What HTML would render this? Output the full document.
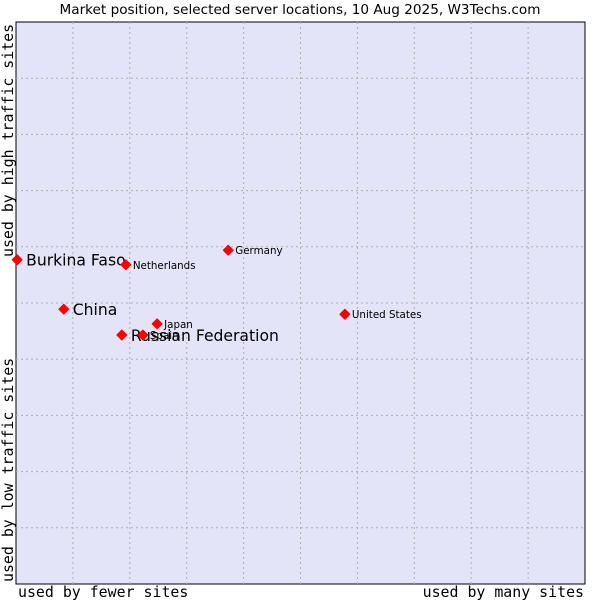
<!DOCTYPE html>
<html><head><meta charset="utf-8"><style>
body{margin:0;background:#fff;width:600px;height:600px;overflow:hidden}
svg{display:block}
</style></head><body>
<svg width="600" height="600">
<text x="300" y="14" text-anchor="middle" font-family="DejaVu Sans, sans-serif" font-size="13.6" fill="#000">Market position, selected server locations, 10 Aug 2025, W3Techs.com</text>
<rect x="16" y="22" width="569" height="562" fill="#e3e4f7" stroke="#000" stroke-width="1"/>
<g id="grid"></g>
<g id="marks"></g>
<text x="18" y="597" font-family="DejaVu Sans Mono, monospace" font-size="14.9">used by fewer sites</text>
<text x="584" y="597" text-anchor="end" font-family="DejaVu Sans Mono, monospace" font-size="14.9">used by many sites</text>
<text transform="translate(13,582) rotate(-90)" font-family="DejaVu Sans Mono, monospace" font-size="14.9">used by low traffic sites</text>
<text transform="translate(13,257) rotate(-90)" font-family="DejaVu Sans Mono, monospace" font-size="14.9">used by high traffic sites</text>
</svg>
<script>
const countries=["Burkina Faso","China","Russian Federation","Spain","Japan","Netherlands","Germany","United States"];
const xValues=[0.2,8.4,18.6,22.3,24.8,19.3,37.3,57.8];
const yValues=[57.7,48.9,44.3,44.3,46.3,56.8,59.4,48.0];
const bigLabel=[true,true,true,false,false,false,false,false];
const NS="http://www.w3.org/2000/svg";
const L=16,T=22,W=569,H=562;
const sx=v=>L+v/100*W, sy=v=>T+H-v/100*H;
const grid=document.getElementById('grid');
for(let i=1;i<10;i++){
 const v=document.createElementNS(NS,'line');
 v.setAttribute('x1',sx(i*10));v.setAttribute('x2',sx(i*10));v.setAttribute('y1',T);v.setAttribute('y2',T+H);
 v.setAttribute('stroke','#b0b0b0');v.setAttribute('stroke-dasharray','2,3');
 
 
 grid.appendChild(v);
 const h=document.createElementNS(NS,'line');
 h.setAttribute('y1',sy(i*10));h.setAttribute('y2',sy(i*10));h.setAttribute('x1',L);h.setAttribute('x2',L+W);
 h.setAttribute('stroke','#b0b0b0');h.setAttribute('stroke-dasharray','2,3');
 
 
 grid.appendChild(h);
}
const marks=document.getElementById('marks');
countries.forEach((c,i)=>{
 const x=sx(xValues[i]),y=sy(yValues[i]);
 const p=document.createElementNS(NS,'polygon');
 p.setAttribute('points',`${x},${y-5} ${x+5},${y} ${x},${y+5} ${x-5},${y}`);
 p.setAttribute('fill','#ff0000');
 p.setAttribute('stroke','#ff0000');
 p.setAttribute('stroke-width','1');
 p.setAttribute('stroke-linejoin','round');
 
 
 marks.appendChild(p);
 const t=document.createElementNS(NS,'text');
 t.setAttribute('x',x+(bigLabel[i]?9:7));
 t.setAttribute('y',y+(bigLabel[i]?6:4));
 t.setAttribute('font-family','DejaVu Sans, sans-serif');
 t.setAttribute('font-size',bigLabel[i]?'15.6':'10.3');
 t.textContent=c;
 
 
 marks.appendChild(t);
});
</script>
</body></html>
